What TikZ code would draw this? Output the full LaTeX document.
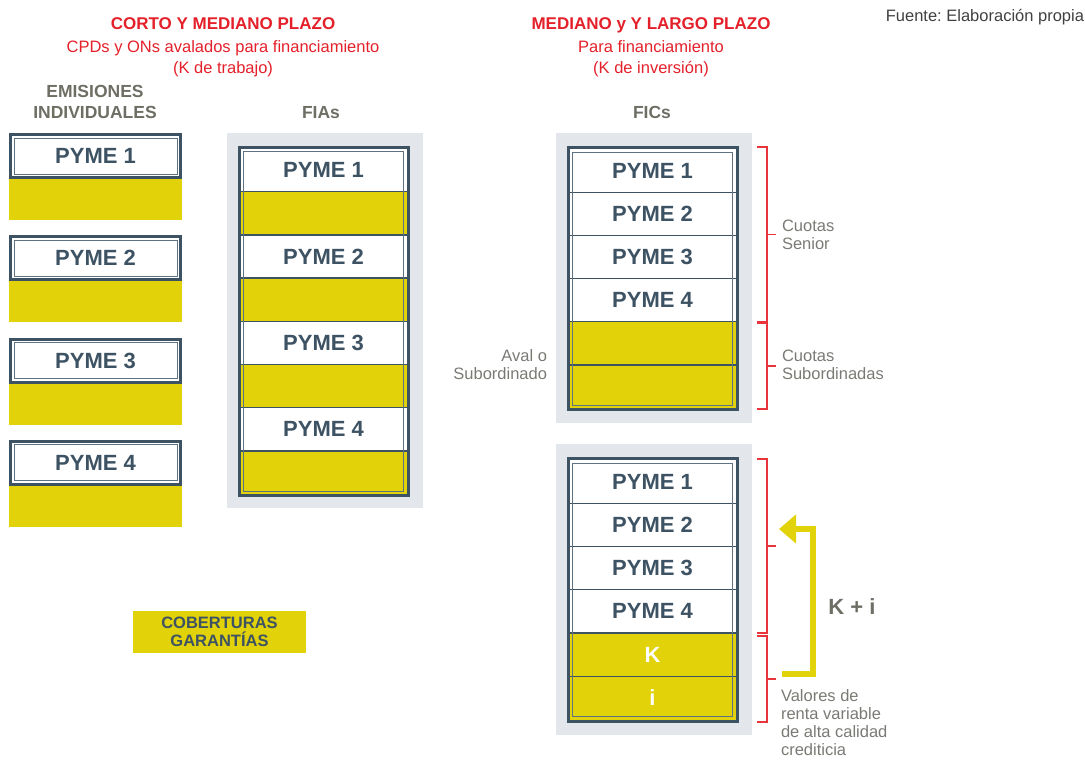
\documentclass[tikz,border=0pt]{standalone}
\usepackage{fontspec}
\setmainfont{Liberation Sans}
\usetikzlibrary{arrows.meta}
\definecolor{slate}{HTML}{3D5263}
\definecolor{thinl}{HTML}{5F7282}
\definecolor{yel}{HTML}{E1D20A}
\definecolor{bgg}{HTML}{E3E6EA}
\definecolor{hgray}{HTML}{6E6E64}
\definecolor{tgray}{HTML}{7A7A75}
\definecolor{redt}{HTML}{E4202A}
\definecolor{redb}{HTML}{E8353B}
\newcommand\myfs[2]{\fontsize{#1}{#2}\selectfont}
\frenchspacing
\tikzset{
  every node/.style={inner sep=0pt, outer sep=0pt},
  pymetext/.style={font=\myfs{22}{24}\bfseries, text=slate},
  ebox/.style={pymetext, draw=slate, line width=3pt, fill=white, minimum width=170pt, minimum height=43pt, anchor=north west},
  eyel/.style={fill=yel, minimum width=173pt, minimum height=42pt, anchor=north west},
  rowbox/.style={pymetext, anchor=north west, minimum width=166pt, minimum height=#1},
  divider/.style={draw=slate, line width=1.3pt},
  frame/.style={draw=slate, line width=3pt},
  thinframe/.style={draw=thinl, line width=0.9pt},
  bgpanel/.style={fill=bgg},
  redhead/.style={font=\myfs{17}{20}\bfseries, text=redt, anchor=base},
  redsub/.style={font=\myfs{16.5}{19}, text=redt, anchor=base},
  grayhead/.style={font=\myfs{17.5}{20}\bfseries, text=hgray},
  note/.style={font=\myfs{16.5}{18.5}, text=tgray},
  brk/.style={draw=redb, line width=1.2pt},
  karrow/.style={draw=yel, line width=6pt, line join=miter, -{Triangle[length=17pt,width=28pt]}},
}
\begin{document}
\begin{tikzpicture}[x=1pt,y=-1pt]
\useasboundingbox (0,0) rectangle (1085,760);

% ---------- headers ----------
\node[note, anchor=base east, text=black!75] (fuente) at (1084,22) {Fuente: Elaboración propia};
\node[redhead] (h1) at (223,30) {CORTO Y MEDIANO PLAZO};
\node[redsub] (h1a) at (223,53) {CPDs y ONs avalados para financiamiento};
\node[redsub] (h1b) at (223,74) {(K de trabajo)};
\node[redhead] (h2) at (651,30) {MEDIANO y Y LARGO PLAZO};
\node[redsub] (h2a) at (651,53) {Para financiamiento};
\node[redsub] (h2b) at (651,74) {(K de inversión)};
\node[grayhead, anchor=base] (emi) at (95,98) {EMISIONES};
\node[grayhead, anchor=base] (ind) at (95,118) {INDIVIDUALES};
\node[grayhead, anchor=base] (fias) at (321,118) {FIAs};
\node[grayhead, anchor=base] (fics) at (652,118) {FICs};

% ---------- individual emissions ----------
\foreach \i in {1,2,3,4}{
  \pgfmathsetmacro\tp{133+(\i-1)*102.3}
  \node[eyel] (ey\i) at (9,\tp+45) {};
  \node[ebox] (e\i) at (10.5,\tp+1.5) {PYME \i};
  \draw[thinframe] ([shift={(3.5,3.5)}]e\i.north west) rectangle ([shift={(-3.5,-3.5)}]e\i.south east);
}

% ---------- FIAs ----------
\fill[bgpanel] (227,133) rectangle (423,508);
\foreach \i/\f/\t in {1/white/PYME 1,2/yel/{},3/white/PYME 2,4/yel/{},5/white/PYME 3,6/yel/{},7/white/PYME 4,8/yel/{}}{
  \node[rowbox=43.2pt, fill=\f] (fia\i) at (240.5,{148.5+(\i-1)*43.2}) {\t};
}
\foreach \i in {1,...,7}{
  \draw[divider] ([xshift=-1.5pt]fia\i.south west) -- ([xshift=1.5pt]fia\i.south east);
}
\draw[thinframe] ([shift={(3,3)}]fia1.north west) rectangle ([shift={(-3,-3)}]fia8.south east);
\draw[frame] ([shift={(-1.5,-1.5)}]fia1.north west) rectangle ([shift={(1.5,1.5)}]fia8.south east);

% ---------- FICs top ----------
\fill[bgpanel] (556,133) rectangle (752,423);
\foreach \i/\f/\t in {1/white/PYME 1,2/white/PYME 2,3/white/PYME 3,4/white/PYME 4,5/yel/{},6/yel/{}}{
  \node[rowbox=43.2pt, fill=\f] (fa\i) at (569.5,{149+(\i-1)*43.2}) {\t};
}
\foreach \i in {1,...,5}{
  \draw[divider] ([xshift=-1.5pt]fa\i.south west) -- ([xshift=1.5pt]fa\i.south east);
}
\draw[thinframe] ([shift={(3,3)}]fa1.north west) rectangle ([shift={(-3,-3)}]fa6.south east);
\draw[frame] ([shift={(-1.5,-1.5)}]fa1.north west) rectangle ([shift={(1.5,1.5)}]fa6.south east);

% ---------- FICs bottom ----------
\fill[bgpanel] (556,444) rectangle (752,735);
\foreach \i/\f/\t in {1/white/PYME 1,2/white/PYME 2,3/white/PYME 3,4/white/PYME 4}{
  \node[rowbox=43.25pt, fill=\f] (fb\i) at (569.5,{460+(\i-1)*43.25}) {\t};
}
\node[rowbox=43.25pt, fill=yel, text=white] (fb5) at (569.5,{460+4*43.25}) {K};
\node[rowbox=43.25pt, fill=yel, text=white] (fb6) at (569.5,{460+5*43.25}) {i};
\foreach \i in {1,...,5}{
  \draw[divider] ([xshift=-1.5pt]fb\i.south west) -- ([xshift=1.5pt]fb\i.south east);
}
\draw[thinframe] ([shift={(3,3)}]fb1.north west) rectangle ([shift={(-3,-3)}]fb6.south east);
\draw[frame] ([shift={(-1.5,-1.5)}]fb1.north west) rectangle ([shift={(1.5,1.5)}]fb6.south east);

% ---------- red brackets ----------
\foreach \n/\a/\b in {b1/147/322, b2/323/409, b3/459/633, b4/636/722}{
  \coordinate (\n t) at (757,\a);
  \coordinate (\n b) at (757,\b);
  \coordinate (\n m) at (767,{(\a+\b)/2});
  \draw[brk] (\n t) -| (\n m) |- (\n b);
  \draw[brk] (\n m) -- ++(9,0);
}

% ---------- side labels ----------
\node[note, align=left, anchor=north west] (senior) at (782,219.5) {Cuotas\\Senior};
\node[note, align=left, anchor=north west] (subord) at (782,349.5) {Cuotas\\Subordinadas};
\node[note, align=right, anchor=north east] (aval) at (547,349.5) {Aval o\\Subordinado};
\node[note, align=left, anchor=north west, font=\myfs{16.5}{17.8}] (valores) at (781,690) {Valores de\\renta variable\\de alta calidad\\crediticia};

% ---------- K + i arrow ----------
\coordinate (ks) at (782,674);
\coordinate (kc1) at (813,674);
\coordinate (kc2) at (813,529);
\coordinate (kt) at (779,529);
\draw[karrow] (ks) -- (kc1) -- (kc2) -- (kt);
\node[font=\myfs{22}{24}\bfseries, text=hgray] (ki) at (852,607) {K + i};

% ---------- legend ----------
\node[fill=yel, minimum width=173pt, minimum height=42pt, align=center, font=\myfs{16.5}{18}\bfseries, text=slate] (cob) at (219.5,632) {COBERTURAS\\GARANTÍAS};
\end{tikzpicture}
\end{document}
